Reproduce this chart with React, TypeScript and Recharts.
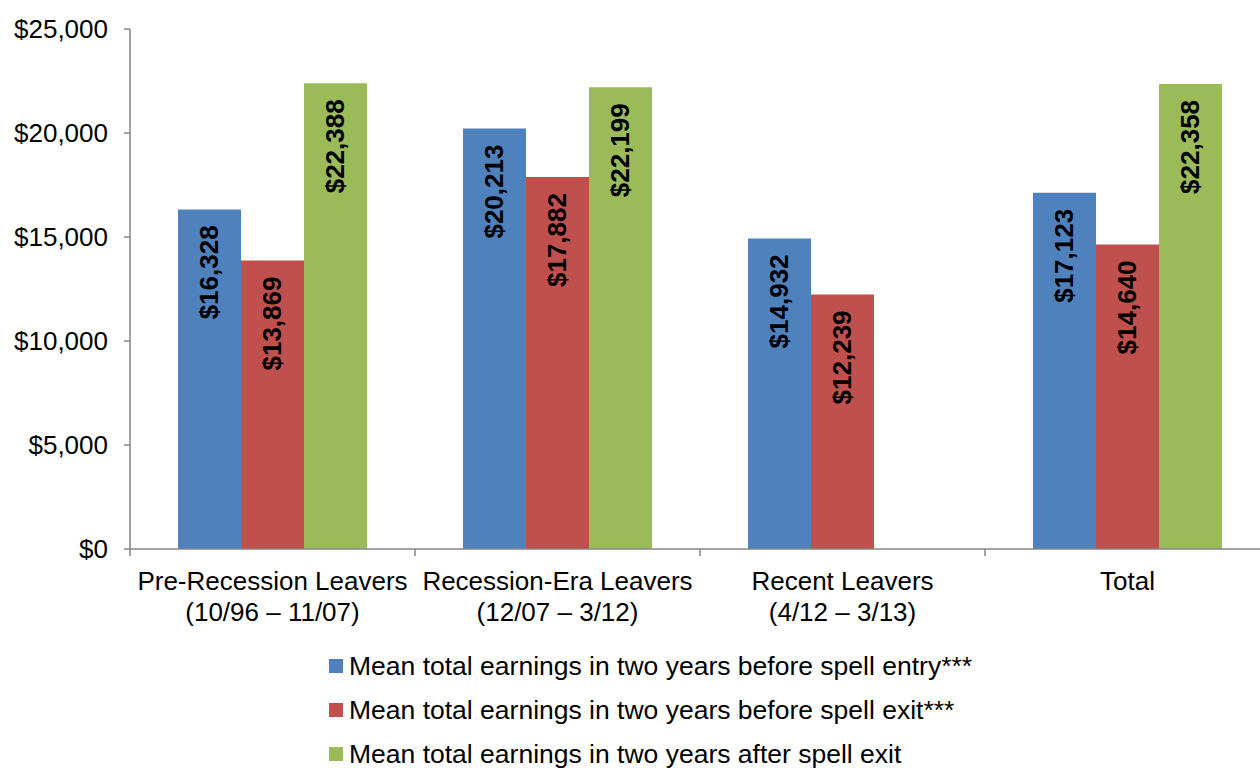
import React from "react";
import { Bar, BarChart, LabelList, Legend, XAxis, YAxis } from "recharts";

const categoryNames = ["Pre-Recession Leavers", "Recession-Era Leavers", "Recent Leavers", "Total"];
const categoryPeriods = ["(10/96 – 11/07)", "(12/07 – 3/12)", "(4/12 – 3/13)", ""];

const beforeEntry = [16328, 20213, 14932, 17123];
const beforeExit = [13869, 17882, 12239, 14640];
const afterExit = [22388, 22199, null, 22358];

const yTicks = [0, 5000, 10000, 15000, 20000, 25000];

const seriesNames = [
  "Mean total earnings in two years before spell entry***",
  "Mean total earnings in two years before spell exit***",
  "Mean total earnings in two years after spell exit",
];
const seriesColors = ["#4F81BD", "#C0504D", "#9BBB59"];

const FONT = '"Liberation Sans", Arial, Helvetica, sans-serif';
const CHART_W = 1290;
const CHART_H = 770;
const MARGIN = { top: 29, right: 20, left: 0, bottom: 0 };
const Y_AXIS_W = 130;
const AXIS_GREY = "#868686";

// width of one category band, used to put tick marks between categories
const bandWidth = (CHART_W - MARGIN.left - MARGIN.right - Y_AXIS_W) / categoryNames.length;

const data = categoryNames.map((name, i) => ({
  name,
  period: categoryPeriods[i],
  entry: beforeEntry[i],
  exit: beforeExit[i],
  after: afterExit[i],
}));

const money = (v: number) => "$" + v.toLocaleString("en-US");

// rotated value label sitting just inside the top of the bar
const BarValue = (props: any) => {
  const { x, y, width, value } = props;
  if (value == null) return null;
  const cx = x + width / 2;
  const ty = y + 16;
  return (
    <text
      x={cx}
      y={ty}
      transform={`rotate(-90, ${cx}, ${ty})`}
      textAnchor="end"
      dominantBaseline="central"
      fontSize={26}
      fontWeight="bold"
      fontFamily={FONT}
      fill="#000"
    >
      {money(value)}
    </text>
  );
};

const CategoryTick = (props: any) => {
  const { x, y, index } = props;
  const row = data[index];
  const left = x - bandWidth / 2;
  const right = x + bandWidth / 2;
  return (
    <g>
      <line x1={left} y1={y} x2={left} y2={y + 7} stroke={AXIS_GREY} strokeWidth={1.5} />
      {index === data.length - 1 && (
        <line x1={right} y1={y} x2={right} y2={y + 7} stroke={AXIS_GREY} strokeWidth={1.5} />
      )}
      <text x={x} y={y + 32} textAnchor="middle" dominantBaseline="central" fontSize={26} fontFamily={FONT} fill="#000">
        {row.name}
      </text>
      {row.period && (
        <text x={x} y={y + 63} textAnchor="middle" dominantBaseline="central" fontSize={26} fontFamily={FONT} fill="#000">
          {row.period}
        </text>
      )}
    </g>
  );
};

const LegendBox = () => (
  <div style={{ height: 130, fontFamily: FONT, fontSize: 26.5, color: "#000" }}>
    {seriesNames.map((name, i) => (
      <div key={name} style={{ height: 44, display: "flex", alignItems: "center", whiteSpace: "nowrap" }}>
        <span style={{ width: 14, height: 14, background: seriesColors[i], display: "inline-block", marginRight: 6, flex: "none" }} />
        <span>{name}</span>
      </div>
    ))}
  </div>
);

export default function App() {
  return (
    <div style={{ position: "absolute", left: 0, top: 0, width: 1260, height: 770, overflow: "hidden", background: "#fff" }}>
      <BarChart
        width={CHART_W}
        height={CHART_H}
        data={data}
        margin={MARGIN}
        barCategoryGap={48}
        barGap={0}
        style={{ fontFamily: FONT }}
      >
        <XAxis
          dataKey="name"
          height={91}
          axisLine={{ stroke: AXIS_GREY, strokeWidth: 1.5 }}
          tickLine={false}
          tickSize={0}
          tickMargin={0}
          interval={0}
          tick={<CategoryTick />}
        />
        <YAxis
          width={Y_AXIS_W}
          domain={[0, 25000]}
          ticks={yTicks}
          tickFormatter={money}
          axisLine={{ stroke: AXIS_GREY, strokeWidth: 1.5 }}
          tickLine={{ stroke: AXIS_GREY, strokeWidth: 1.5 }}
          tickSize={6}
          tickMargin={16}
          tick={{ fontSize: 26, fill: "#000", fontFamily: FONT }}
        />
        <Legend
          verticalAlign="bottom"
          content={<LegendBox />}
          wrapperStyle={{ left: 329, width: 700, top: 644, bottom: "auto" }}
        />
        <Bar dataKey="entry" name={seriesNames[0]} fill={seriesColors[0]} isAnimationActive={false}>
          <LabelList dataKey="entry" content={<BarValue />} />
        </Bar>
        <Bar dataKey="exit" name={seriesNames[1]} fill={seriesColors[1]} isAnimationActive={false}>
          <LabelList dataKey="exit" content={<BarValue />} />
        </Bar>
        <Bar dataKey="after" name={seriesNames[2]} fill={seriesColors[2]} isAnimationActive={false}>
          <LabelList dataKey="after" content={<BarValue />} />
        </Bar>
      </BarChart>
    </div>
  );
}
